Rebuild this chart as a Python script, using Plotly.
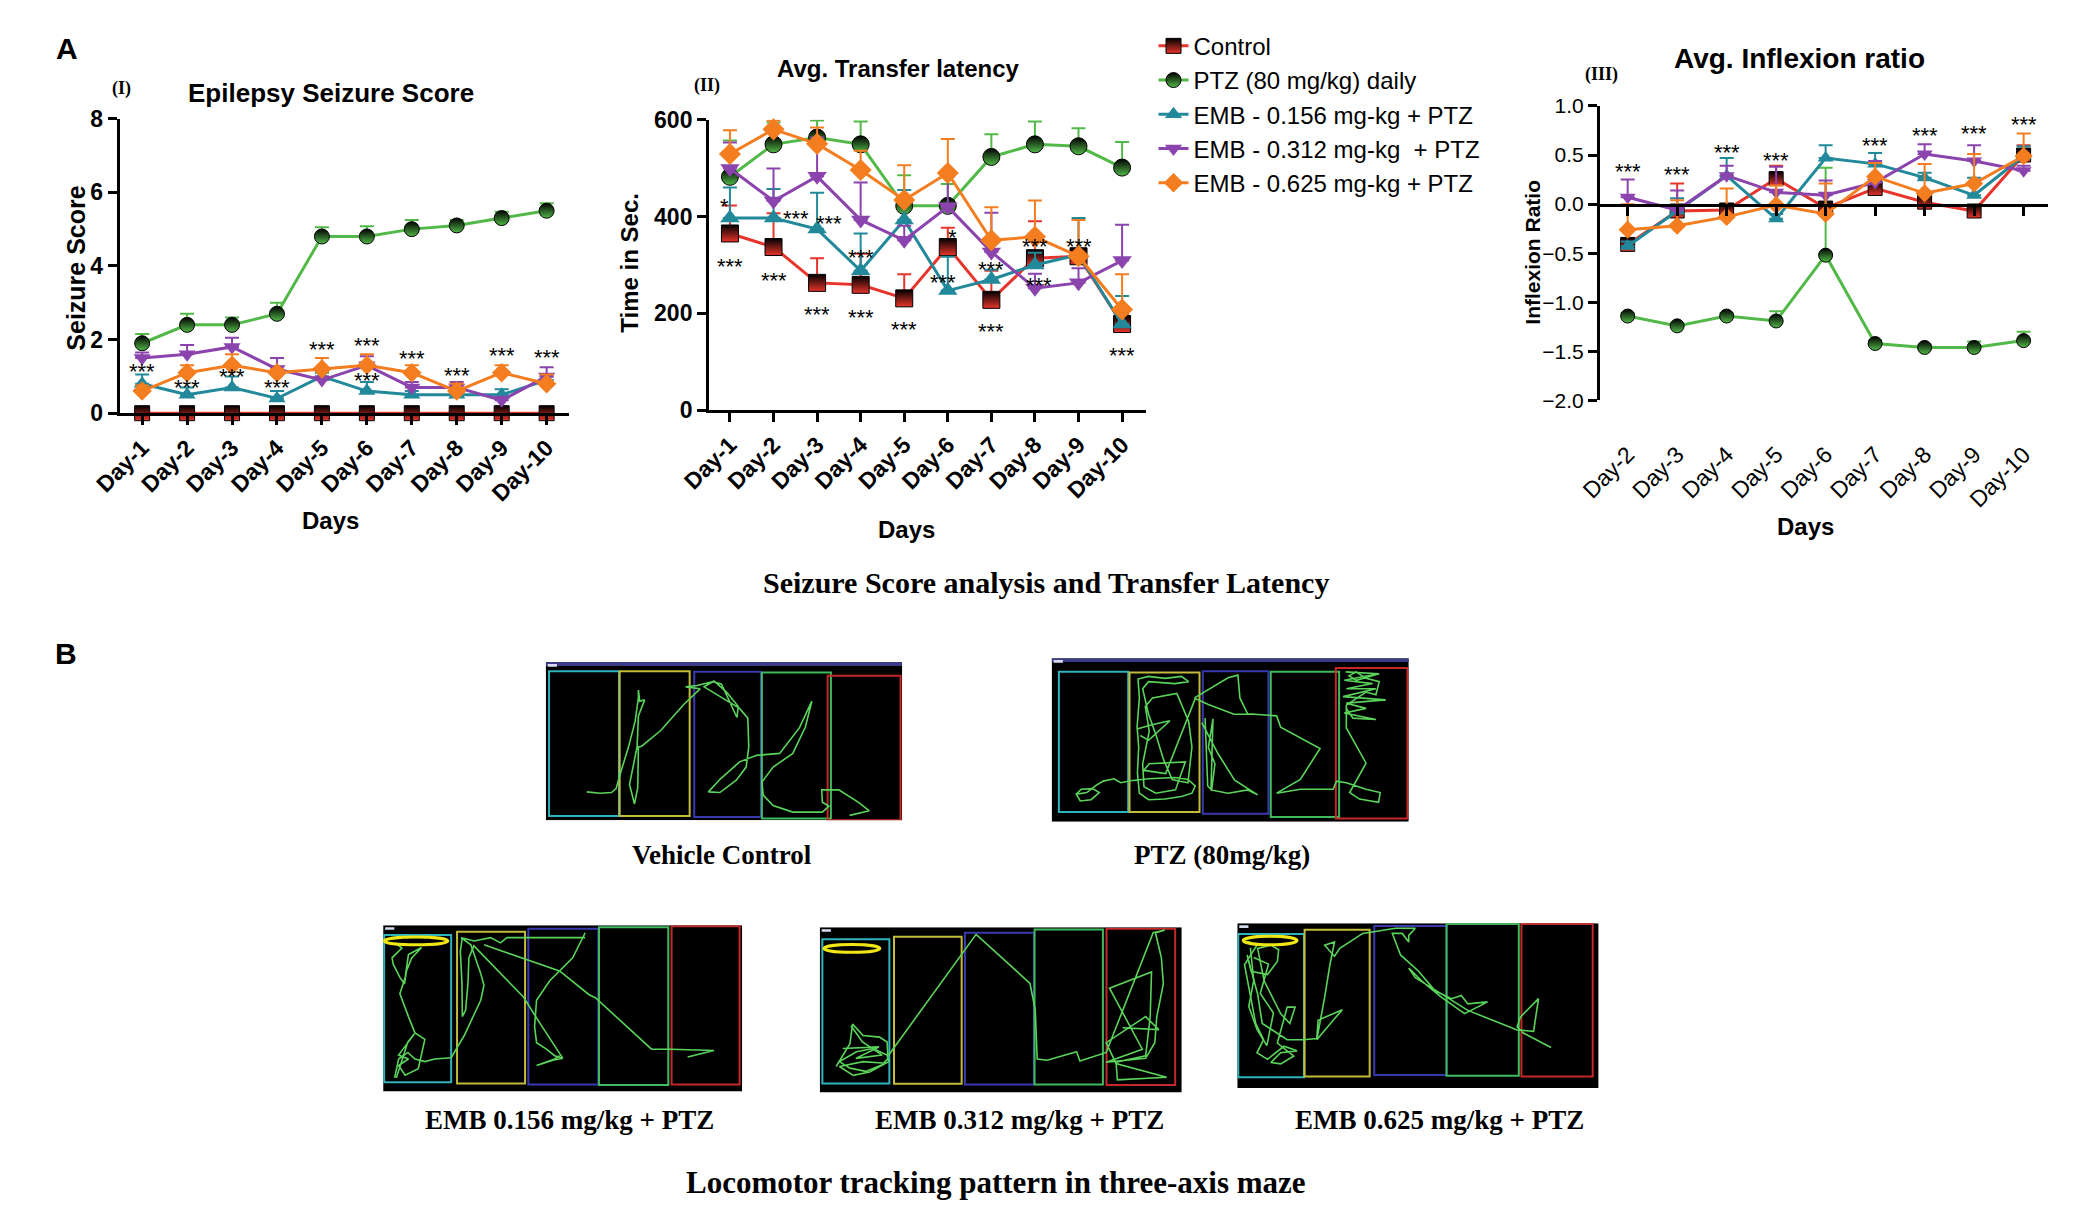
import plotly.graph_objects as go

W, H = 2073, 1208
SANS = "Liberation Sans"
SERIF = "Liberation Serif"

# ---------------- data ----------------
days10 = ["Day-1", "Day-2", "Day-3", "Day-4", "Day-5", "Day-6", "Day-7", "Day-8", "Day-9", "Day-10"]
days9 = ["Day-2", "Day-3", "Day-4", "Day-5", "Day-6", "Day-7", "Day-8", "Day-9", "Day-10"]

group_names = ["Control", "PTZ (80 mg/kg) daily", "EMB - 0.156 mg-kg + PTZ",
               "EMB - 0.312 mg-kg \u00a0+ PTZ", "EMB - 0.625 mg-kg + PTZ"]

# (I) Epilepsy seizure score
seiz_ctrl = [0, 0, 0, 0, 0, 0, 0, 0, 0, 0]
seiz_ctrl_err = [0, 0, 0, 0, 0, 0, 0, 0, 0, 0]
seiz_ptz = [1.9, 2.4, 2.4, 2.7, 4.8, 4.8, 5.0, 5.1, 5.3, 5.5]
seiz_ptz_err = [0.25, 0.3, 0.2, 0.3, 0.25, 0.28, 0.25, 0.15, 0.17, 0.2]
seiz_e156 = [0.8, 0.5, 0.7, 0.4, 1.0, 0.6, 0.5, 0.5, 0.5, 0.9]
seiz_e156_err = [0.25, 0.2, 0.3, 0.2, 0.1, 0.25, 0.1, 0.1, 0.15, 0.1]
seiz_e312 = [1.5, 1.6, 1.8, 1.2, 0.9, 1.3, 0.7, 0.7, 0.35, 1.0]
seiz_e312_err = [0.15, 0.25, 0.25, 0.3, 0.1, 0.25, 0.15, 0.15, 0.1, 0.25]
seiz_e625 = [0.6, 1.1, 1.3, 1.1, 1.2, 1.3, 1.1, 0.6, 1.1, 0.8]
seiz_e625_err = [0.15, 0.2, 0.3, 0.1, 0.3, 0.3, 0.2, 0.2, 0.2, 0.25]
seiz_star_x = ["Day-1", "Day-2", "Day-3", "Day-4", "Day-5", "Day-6", "Day-6", "Day-7", "Day-8", "Day-9", "Day-10"]
seiz_star_y = [1.3, 0.85, 1.15, 0.85, 1.9, 2.0, 1.05, 1.65, 1.2, 1.72, 1.68]

# (II) Avg. transfer latency (sec)
tl_ctrl = [365, 337, 263, 259, 231, 337, 228, 314, 318, 178]
tl_ctrl_err = [58, 70, 51, 64, 50, 40, 60, 76, 15, 20]
tl_ptz = [482, 549, 563, 549, 422, 422, 523, 549, 545, 501]
tl_ptz_err = [75, 45, 35, 47, 63, 45, 47, 47, 37, 53]
tl_e156 = [397, 397, 374, 288, 393, 247, 270, 300, 321, 178]
tl_e156_err = [63, 60, 75, 77, 62, 70, 20, 25, 76, 58]
tl_e312 = [499, 432, 483, 393, 351, 420, 327, 252, 263, 309]
tl_e312_err = [54, 67, 80, 77, 30, 62, 81, 30, 30, 74]
tl_e625 = [529, 580, 550, 496, 434, 490, 351, 358, 318, 208]
tl_e625_err = [49, 18, 34, 40, 72, 70, 68, 75, 75, 73]
tl_star_x = ["Day-1", "Day-1", "Day-2", "Day-2", "Day-3", "Day-3", "Day-4", "Day-4", "Day-5",
             "Day-6", "Day-6", "Day-7", "Day-7", "Day-8", "Day-8", "Day-9", "Day-10"]
tl_star_y = [434, 309, 409, 281, 397, 210, 327, 203, 180, 369, 276, 302, 175, 351, 270, 351, 126]
tl_star_text = ["*", "***", "***", "***", "***", "***", "***", "***", "***",
                "*", "***", "***", "***", "***", "***", "***", "***"]
tl_star_dx = [-5, 0, 22, 0, 12, 0, 0, 0, 0, 5, -5, 0, 0, 0, 4, 0, 0]

# (III) Avg. inflexion ratio
ir_ctrl = [-0.41, -0.07, -0.06, 0.26, -0.04, 0.16, 0.02, -0.07, 0.50]
ir_ctrl_err = [0.04, 0.28, 0.04, 0.13, 0.05, 0.05, 0.04, 0.04, 0.1]
ir_ptz = [-1.14, -1.24, -1.14, -1.19, -0.52, -1.42, -1.46, -1.46, -1.39]
ir_ptz_err = [0.03, 0.03, 0.03, 0.10, 0.89, 0.03, 0.03, 0.06, 0.09]
ir_e156 = [-0.43, -0.07, 0.29, -0.15, 0.47, 0.41, 0.27, 0.09, 0.49]
ir_e156_err = [0.05, 0.13, 0.18, 0.05, 0.13, 0.11, 0.05, 0.18, 0.1]
ir_e312 = [0.07, -0.06, 0.29, 0.12, 0.09, 0.22, 0.51, 0.44, 0.34]
ir_e312_err = [0.18, 0.20, 0.1, 0.26, 0.15, 0.22, 0.1, 0.16, 0.05]
ir_e625 = [-0.26, -0.22, -0.13, -0.01, -0.10, 0.28, 0.11, 0.21, 0.49]
ir_e625_err = [0.26, 0.26, 0.29, 0.2, 0.31, 0.14, 0.3, 0.3, 0.23]
ir_star_x = ["Day-2", "Day-3", "Day-4", "Day-5", "Day-7", "Day-8", "Day-9", "Day-10"]
ir_star_y = [0.39, 0.36, 0.59, 0.51, 0.66, 0.76, 0.78, 0.87]

# (B) locomotor tracks, traced from the maze snapshots (image pixel units)
vc_track = [(135, 438), (175, 442), (210, 440), (224, 428), (240, 372), (262, 300), (282, 222), (292, 150),
            (292, 126), (296, 160), (311, 156), (292, 205), (288, 300), (275, 370), (265, 415), (280, 475),
            (290, 425), (292, 300), (302, 298), (360, 250), (430, 170), (480, 122), (436, 116), (470, 112),
            (520, 100), (545, 108), (592, 210), (596, 176), (560, 132), (522, 98), (492, 116), (600, 182),
            (625, 212), (628, 300), (620, 362), (590, 402), (540, 440), (505, 438), (542, 398), (600, 346),
            (652, 326), (722, 320), (782, 242), (820, 160), (800, 240), (762, 320), (702, 362), (668, 408),
            (672, 448), (702, 480), (762, 500), (852, 500), (872, 482), (852, 470), (850, 432), (902, 432),
            (962, 470), (995, 496), (935, 510)]
ptz_track = [(80, 445), (95, 430), (130, 428), (150, 440), (125, 462), (92, 466), (80, 445), (112, 440),
             (140, 418), (162, 405), (195, 398), (215, 410), (245, 404), (300, 398), (382, 394), (420, 400),
             (442, 420), (432, 442), (400, 452), (350, 460), (300, 462), (272, 442), (266, 380), (270, 300),
             (265, 240), (272, 150), (268, 92), (300, 84), (350, 90), (400, 84), (422, 100), (380, 106),
             (300, 100), (282, 122), (300, 200), (322, 262), (346, 340), (372, 400), (420, 410), (432, 300),
             (422, 222), (386, 136), (312, 150), (290, 176), (302, 252), (282, 352), (286, 422), (322, 442),
             (382, 432), (412, 346), (302, 352), (286, 372), (352, 382), (432, 182), (442, 152), (482, 170),
             (560, 200), (622, 200), (690, 205), (702, 240), (822, 305), (762, 400), (690, 442), (762, 430),
             (862, 430), (872, 405), (902, 410), (962, 430), (1005, 440), (1000, 470), (942, 460), (912, 440),
             (962, 350), (902, 242), (902, 172), (962, 132), (992, 140), (1002, 100), (962, 90), (932, 70),
             (910, 82), (932, 96), (1002, 76), (None, None),
             (440, 150), (542, 88), (572, 80), (578, 150), (602, 200), (622, 200), (None, None),
             (472, 212), (476, 320), (480, 420), (492, 432), (502, 352), (482, 302), (496, 214), (490, 432),
             (542, 442), (602, 432), (632, 447), (562, 402), (512, 322), (462, 226), (None, None),
             (900, 70), (1000, 76), (896, 96), (982, 106), (902, 122), (992, 122), (892, 146), (1022, 156),
             (902, 166), (962, 182), (896, 196), (992, 216), (922, 212), (902, 182), (None, None),
             (265, 245), (310, 232), (365, 220), (300, 280), (275, 265)]
e156_track = [(60, 490), (72, 432), (100, 412), (122, 432), (152, 440), (182, 432), (232, 428), (272, 360),
              (322, 252), (332, 206), (322, 170), (302, 112), (292, 82), (262, 60), (302, 70), (352, 60),
              (382, 76), (402, 60), (640, 60), (None, None),
              (640, 45), (602, 122), (532, 192), (492, 252), (486, 332), (492, 382), (522, 402), (547, 422),
              (572, 430), (542, 436), (492, 452), (547, 432), (562, 422), (None, None),
              (332, 82), (562, 162), (652, 235), (672, 245), (842, 402), (902, 402), (1032, 406), (952, 426),
              (None, None), (302, 86), (452, 242), (502, 322), (572, 430), (None, None),
              (62, 76), (82, 92), (52, 122), (56, 142), (76, 182), (90, 202), (96, 162), (112, 122), (142, 90),
              (122, 100), (102, 112), (92, 182), (76, 232), (102, 302), (122, 352), (152, 372), (142, 422),
              (132, 462), (92, 482), (72, 452), (102, 432), (72, 420), (120, 355), (100, 380), (65, 490),
              (None, None), (266, 60), (260, 102), (265, 202), (266, 302), (276, 282), (283, 202), (286, 122),
              (302, 82)]
e312_track = [(60, 455), (82, 420), (102, 385), (110, 325), (142, 360), (192, 365), (215, 380), (218, 430),
              (200, 450), (150, 470), (102, 460), (70, 440), (122, 410), (172, 400), (215, 420), (220, 440),
              (162, 472), (112, 482), (70, 455), (142, 440), (210, 445), (None, None),
              (220, 420), (432, 122), (486, 50), (650, 200), (666, 282), (672, 432), (702, 436), (792, 410),
              (802, 438), (882, 412), (1025, 45), (1060, 37), (1032, 45), (1050, 122), (1056, 202), (1036, 302),
              (1030, 382), (1002, 430), (882, 442), (992, 402), (892, 215), (1020, 165), (1016, 302), (1002, 422),
              (912, 442), (916, 496), (1066, 488), (912, 446), (882, 382), (1002, 302), (1042, 342), (932, 336),
              (None, None), (80, 400), (190, 395), (120, 430), (200, 420), (140, 380), (105, 330)]
e625_track = [(30, 80), (60, 92), (22, 152), (40, 252), (56, 332), (80, 382), (60, 422), (92, 442), (142, 402),
              (182, 416), (132, 422), (102, 452), (132, 456), (172, 432), (122, 392), (152, 282), (176, 282),
              (160, 332), (132, 302), (112, 262), (82, 202), (62, 102), (102, 92), (126, 106), (122, 142),
              (92, 182), (42, 172), (30, 122), (62, 242), (76, 332), (152, 382), (202, 382), (242, 378),
              (246, 322), (320, 290), (292, 322), (242, 382), (266, 252), (282, 152), (296, 82), (266, 92),
              (296, 126), (312, 102), (382, 56), (482, 40), (542, 40), (522, 62), (522, 82), (502, 56),
              (472, 56), (497, 122), (552, 172), (602, 232), (652, 256), (682, 246), (702, 272), (762, 266),
              (692, 302), (622, 252), (562, 202), (522, 162), (542, 192), (702, 292), (852, 352), (902, 356),
              (917, 256), (862, 312), (852, 342), (872, 362), (955, 406), (None, None),
              (40, 100), (50, 200), (35, 280), (60, 350), (90, 400), (110, 300), (70, 240), (95, 150), (50, 130)]

# maze lanes (x0, y0, x1, y1) in image pixel units
vc_lanes = [(20, 68, 233, 512), (235, 68, 448, 512), (462, 70, 665, 515), (668, 72, 878, 520), (868, 82, 1090, 525)]
ptz_lanes = [(27, 70, 238, 500), (242, 72, 455, 500), (465, 68, 665, 505), (672, 70, 880, 515), (870, 58, 1088, 520)]
e156_lanes = [(28, 52, 232, 503), (250, 42, 457, 507), (467, 33, 680, 510), (682, 28, 893, 512), (903, 25, 1110, 510)]
e312_lanes = [(18, 65, 222, 507), (236, 57, 442, 508), (452, 45, 662, 510), (664, 35, 872, 510), (883, 33, 1092, 512)]
e625_lanes = [(3, 58, 203, 497), (205, 45, 403, 495), (417, 33, 637, 490), (637, 27, 857, 492), (865, 27, 1082, 495)]

# ---------------- styles ----------------
colors = ["#e8352b", "#52b948", "#22899b", "#8b44ad", "#f47d20"]
symbols = ["square", "circle", "triangle-up", "triangle-down", "diamond"]
half_black = [True, True, False, False, False]
lane_colors = ["#2fb3bd", "#c2bc3a", "#3a3ab0", "#3fba5c", "#c42828"]
track_color = "#5ad35a"

fig = go.Figure()


def add_groups(xs, ys, errs, xa, ya, msize, show):
    for i in range(5):
        if half_black[i]:
            marker = dict(symbol=symbols[i], size=msize, color="black",
                          gradient=dict(type="vertical", color=colors[i]),
                          line=dict(width=1, color="black"))
        else:
            marker = dict(symbol=symbols[i], size=msize, color=colors[i], line=dict(width=0))
        fig.add_trace(go.Scatter(
            x=xs, y=ys[i], mode="lines+markers", name=group_names[i],
            legendgroup=f"g{i}", showlegend=show,
            line=dict(color=colors[i], width=3), marker=marker,
            error_y=dict(type="data", symmetric=False, array=errs[i], arrayminus=[0] * len(xs),
                         color=colors[i], thickness=2, width=7),
            xaxis=xa, yaxis=ya, cliponaxis=False, hoverinfo="x+y+name"))


add_groups(days10, [seiz_ctrl, seiz_ptz, seiz_e156, seiz_e312, seiz_e625],
           [seiz_ctrl_err, seiz_ptz_err, seiz_e156_err, seiz_e312_err, seiz_e625_err], "x", "y", 15, True)
add_groups(days10, [tl_ctrl, tl_ptz, tl_e156, tl_e312, tl_e625],
           [tl_ctrl_err, tl_ptz_err, tl_e156_err, tl_e312_err, tl_e625_err], "x2", "y2", 17, False)
add_groups(days9, [ir_ctrl, ir_ptz, ir_e156, ir_e312, ir_e625],
           [ir_ctrl_err, ir_ptz_err, ir_e156_err, ir_e312_err, ir_e625_err], "x3", "y3", 14, False)
# carrier for the zero-line axis of panel III
fig.add_trace(go.Scatter(x=days9, y=ir_ctrl, mode="markers", marker=dict(opacity=0),
                         xaxis="x4", yaxis="y3", showlegend=False, hoverinfo="skip"))

tickfont = dict(family=SANS, size=23, color="black", weight="bold")


def axis(domain, **kw):
    d = dict(domain=domain, showline=True, linecolor="black", linewidth=3,
             ticks="outside", ticklen=9, tickwidth=3, tickcolor="black",
             showgrid=False, zeroline=False, fixedrange=True, tickfont=tickfont)
    d.update(kw)
    return d


layout = dict(
    xaxis=axis([91 / W, 547 / W], anchor="y", type="category", range=[-0.5, 9.5], tickangle=-45),
    yaxis=axis([1 - 409 / H, 1 - 108 / H], anchor="x", range=[0, 8], tickvals=[0, 2, 4, 6, 8]),
    xaxis2=axis([689 / W, 1132 / W], anchor="y2", type="category", range=[-0.48, 9.54], tickangle=-45),
    yaxis2=axis([1 - 406 / H, 1 - 109 / H], anchor="x2", range=[0, 600], tickvals=[0, 200, 400, 600]),
    xaxis3=axis([1593 / W, 2048 / W], anchor="free", position=1 - 432 / H, type="category",
                range=[-0.56, 8.5], tickangle=-45, showline=False, ticks="",
                tickfont=dict(family=SANS, size=23, color="black")),
    xaxis4=axis([1593 / W, 2048 / W], anchor="free", position=1 - 196 / H, overlaying="x3",
                matches="x3", type="category", showticklabels=False),
    yaxis3=axis([1 - 396 / H, 1 - 95 / H], anchor="x3", range=[-2, 1],
                tickvals=[-2, -1.5, -1, -0.5, 0, 0.5, 1], tickformat=".1f",
                tickfont=dict(family=SANS, size=21, color="black")),
)

annotations = []
shapes = []


def label(text, x, y, size, bold=True, family=SANS, angle=0):
    annotations.append(dict(text=text, x=x / W, y=1 - y / H, xref="paper", yref="paper",
                            showarrow=False, textangle=angle, xanchor="center", yanchor="middle",
                            font=dict(family=family, size=size, color="black",
                                      weight="bold" if bold else "normal")))


# panel letters, titles, axis titles
label("A", 38, 36, 30)
label("B", 37, 655, 30)
label("(I)", 93, 77, 18, family=SERIF)
label("Epilepsy Seizure Score", 305, 82, 26)
label("Seizure Score", 47, 261, 25, angle=-90)
label("Days", 305, 519, 24)
label("(II)", 687, 74, 18, family=SERIF)
label("Avg. Transfer latency", 881, 57, 24)
label("Time in Sec.", 608, 255, 24, angle=-90)
label("Days", 889, 528, 24)
label("(III)", 1595, 63, 18, family=SERIF)
label("Avg. Inflexion ratio", 1795, 47, 28)
label("Inflexion Ratio", 1525, 244, 21, angle=-90)
label("Days", 1802, 525, 24)
label("Seizure Score analysis and Transfer Latency", 1031, 582, 30, family=SERIF)
label("Vehicle Control", 702, 861, 27, family=SERIF)
label("PTZ (80mg/kg)", 1209, 861, 27, family=SERIF)
label("EMB 0.156 mg/kg + PTZ", 547, 1131, 27, family=SERIF)
label("EMB 0.312 mg/kg + PTZ", 1004, 1131, 27, family=SERIF)
label("EMB 0.625 mg/kg + PTZ", 1430, 1131, 27, family=SERIF)
label("Locomotor tracking pattern in three-axis maze", 980, 1195, 31, family=SERIF)


def stars(xs, ys, xa, ya, texts=None, dxs=None):
    for k in range(len(xs)):
        annotations.append(dict(text=texts[k] if texts else "***", x=xs[k], y=ys[k], xref=xa, yref=ya,
                                showarrow=False, xanchor="center", yanchor="middle", yshift=-6,
                                xshift=dxs[k] if dxs else 0,
                                font=dict(family=SANS, size=22, color="black")))


stars(seiz_star_x, seiz_star_y, "x", "y")
stars(tl_star_x, tl_star_y, "x2", "y2", tl_star_text, tl_star_dx)
stars(ir_star_x, ir_star_y, "x3", "y3")

# maze snapshots
mazes = [
    dict(origin=(520, 650), box=(10, 40, 1095, 525), lanes=vc_lanes, track=vc_track, ring=None, bar=True),
    dict(origin=(1035, 650), box=(5, 28, 1092, 530), lanes=ptz_lanes, track=ptz_track, ring=None, bar=True),
    dict(origin=(350, 925), box=(25, 22, 1118, 532), lanes=e156_lanes, track=e156_track,
         ring=(28, 58, 222, 82), bar=False),
    dict(origin=(798, 925), box=(10, 28, 1112, 535), lanes=e312_lanes, track=e312_track,
         ring=(23, 81, 193, 105), bar=False),
    dict(origin=(1225, 922), box=(0, 25, 1100, 530), lanes=e625_lanes, track=e625_track,
         ring=(18, 65, 182, 91), bar=False),
]

for k, m in enumerate(mazes):
    n = 5 + k
    xa, ya = f"x{n}", f"y{n}"
    ox, oy = m["origin"]
    bx0, by0, bx1, by1 = m["box"]
    layout[f"xaxis{n}"] = dict(domain=[(ox + bx0 / 3) / W, (ox + bx1 / 3) / W], range=[bx0, bx1],
                               visible=False, anchor=ya, fixedrange=True)
    layout[f"yaxis{n}"] = dict(domain=[1 - (oy + by1 / 3) / H, 1 - (oy + by0 / 3) / H], range=[by1, by0],
                               visible=False, anchor=xa, fixedrange=True)
    shapes.append(dict(type="rect", xref=xa, yref=ya, x0=bx0, x1=bx1, y0=by0, y1=by1,
                       fillcolor="black", line=dict(width=0), layer="below"))
    if m["bar"]:
        shapes.append(dict(type="rect", xref=xa, yref=ya, x0=bx0, x1=bx1, y0=by0, y1=by0 + 12,
                           fillcolor="#3b3b86", line=dict(width=0), layer="below"))
    shapes.append(dict(type="rect", xref=xa, yref=ya, x0=bx0 + 6, x1=bx0 + 34, y0=by0 + 6, y1=by0 + 14,
                       fillcolor="#d8dcf0", line=dict(width=0), layer="below"))
    for j, (lx0, ly0, lx1, ly1) in enumerate(m["lanes"]):
        shapes.append(dict(type="rect", xref=xa, yref=ya, x0=lx0, x1=lx1, y0=ly0, y1=ly1,
                           line=dict(color=lane_colors[j], width=2), layer="below"))
    if m["ring"]:
        rx0, ry0, rx1, ry1 = m["ring"]
        shapes.append(dict(type="circle", xref=xa, yref=ya, x0=rx0, x1=rx1, y0=ry0, y1=ry1,
                           line=dict(color="#f0e614", width=3)))
    fig.add_trace(go.Scatter(x=[p[0] for p in m["track"]], y=[p[1] for p in m["track"]],
                             mode="lines", line=dict(color=track_color, width=1.6),
                             xaxis=xa, yaxis=ya, showlegend=False, hoverinfo="skip", cliponaxis=True))

fig.update_layout(**layout)
fig.update_layout(
    width=W, height=H, margin=dict(l=0, r=0, t=0, b=0),
    paper_bgcolor="white", plot_bgcolor="white",
    annotations=annotations, shapes=shapes,
    legend=dict(x=1140 / W, y=1 - 11 / H, xanchor="left", yanchor="top",
                font=dict(family=SANS, size=24, color="black"),
                bgcolor="rgba(0,0,0,0)", traceorder="grouped", tracegroupgap=0, itemwidth=30),
)

fig.write_html("out.html", config={"displayModeBar": False},
               post_script="document.body.style.margin='0px';")
